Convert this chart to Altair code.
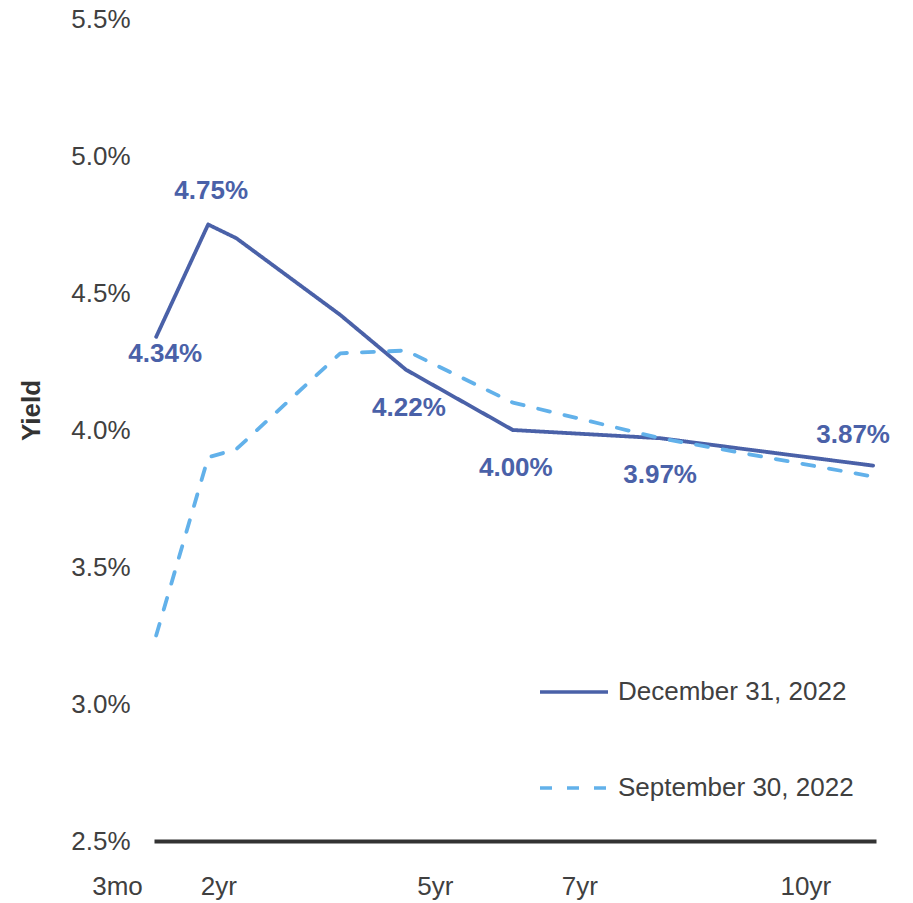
import altair as alt
import pandas as pd

# ---- data ----
maturities = ["3mo", "6mo", "1yr", "2yr", "3yr", "5yr", "7yr", "10yr"]
# horizontal placement of each maturity, in % of the plot width
x_pos = [0.3, 7.5, 11.4, 25.8, 34.9, 49.7, 70.1, 99.6]
dec_yield = [4.34, 4.75, 4.70, 4.42, 4.22, 4.00, 3.97, 3.87]
sep_yield = [3.25, 3.90, 3.93, 4.28, 4.29, 4.10, 3.97, 3.83]
series = ["December 31, 2022", "September 30, 2022"]

tick_labels = ["3mo", "2yr", "5yr", "7yr", "10yr"]
tick_pos = [0, 8.9, 38.9, 58.9, 90.2]
y_ticks = [2.5, 3.0, 3.5, 4.0, 4.5, 5.0, 5.5]

DARK = "#4A61A8"
LIGHT = "#62B1EA"
GREY = "#404040"
FONT = "Liberation Sans"
FS = 26

rows = []
for s, ys in zip(series, [dec_yield, sep_yield]):
    for m, xp, y in zip(maturities, x_pos, ys):
        rows.append({"series": s, "maturity": m, "pos": xp, "yld": y,
                     "label": f"{y:.2f}%"})
df = pd.DataFrame(rows)

label_expr = ""
for v, t in zip(tick_pos, tick_labels):
    label_expr += f"datum.value == {v} ? '{t}' : "
label_expr += "''"

x_enc = alt.X(
    "pos:Q",
    scale=alt.Scale(domain=[0, 100], nice=False, zero=False),
    axis=alt.Axis(values=tick_pos, labelExpr=label_expr, title=None, grid=False,
                  ticks=False, domainColor="#333333", domainWidth=4,
                  labelPadding=32, labelFlush=False, labelFontSize=FS,
                  labelColor=GREY, labelFont=FONT, labelOverlap=False,
                  labelOffset={"condition": {"test": "datum.value == 0", "value": -37},
                               "value": 0}),
)
y_enc = alt.Y(
    "yld:Q",
    scale=alt.Scale(domain=[2.5, 5.5], nice=False, zero=False),
    axis=alt.Axis(values=y_ticks, labelExpr="format(datum.value, '.1f') + '%'",
                  title="Yield", titleX=-123, titleY=391, titleAngle=270,
                  titleAlign="center", titleBaseline="middle", titleFontSize=FS,
                  titleFontWeight="bold", titleColor="#333333", titleFont=FONT,
                  domain=False, ticks=False, grid=False, labelPadding=24,
                  labelFontSize=FS, labelColor=GREY, labelFont=FONT),
)

leg = alt.Legend(orient="none", legendX=384, legendY=637, title=None,
                 symbolType="stroke", symbolSize=4624, symbolStrokeWidth=3.5,
                 labelFontSize=FS, labelFont=FONT, labelColor=GREY, labelLimit=400,
                 rowPadding=47, labelOffset=8, padding=0)

color_enc = alt.Color("series:N", scale=alt.Scale(domain=series, range=[DARK, LIGHT]),
                      legend=leg)
dash_enc = alt.StrokeDash("series:N",
                          scale=alt.Scale(domain=series, range=[[1, 0], [12, 15]]),
                          legend=leg)

base = alt.Chart(df)

line_dec = base.transform_filter(alt.datum.series == series[0]).mark_line(
    strokeWidth=3.8, strokeCap="round", strokeJoin="round"
).encode(x=x_enc, y=y_enc, color=color_enc, strokeDash=dash_enc)

line_sep = base.transform_filter(alt.datum.series == series[1]).mark_line(
    strokeWidth=3.8, strokeCap="round", strokeJoin="round"
).encode(x=x_enc, y=y_enc, color=color_enc, strokeDash=dash_enc)

dec_only = base.transform_filter(alt.datum.series == series[0])


def labels(names, dx, dy):
    return dec_only.transform_filter(
        alt.FieldOneOfPredicate(field="maturity", oneOf=names)
    ).mark_text(font=FONT, fontSize=FS, fontWeight="bold", color=DARK,
                dx=dx, dy=dy, baseline="middle", align="center").encode(
        x="pos:Q", y="yld:Q", text="label:N")


lab_3mo = labels(["3mo"], 9, 17)
lab_6mo = labels(["6mo"], 3, -34)
lab_below = labels(["3yr", "5yr"], 3, 38)
lab_7yr = labels(["7yr"], 0, 37)
lab_10yr = labels(["10yr"], -20, -31)

chart = alt.layer(line_dec, line_sep, lab_3mo, lab_6mo, lab_below, lab_7yr, lab_10yr).properties(
    width=722, height=822,
    padding={"left": 146, "top": 11, "right": 29, "bottom": 60},
    autosize=alt.AutoSizeParams(type="none"),
).configure_view(stroke=None)

chart.save("out.html", embed_options={"renderer": "svg", "actions": False})
